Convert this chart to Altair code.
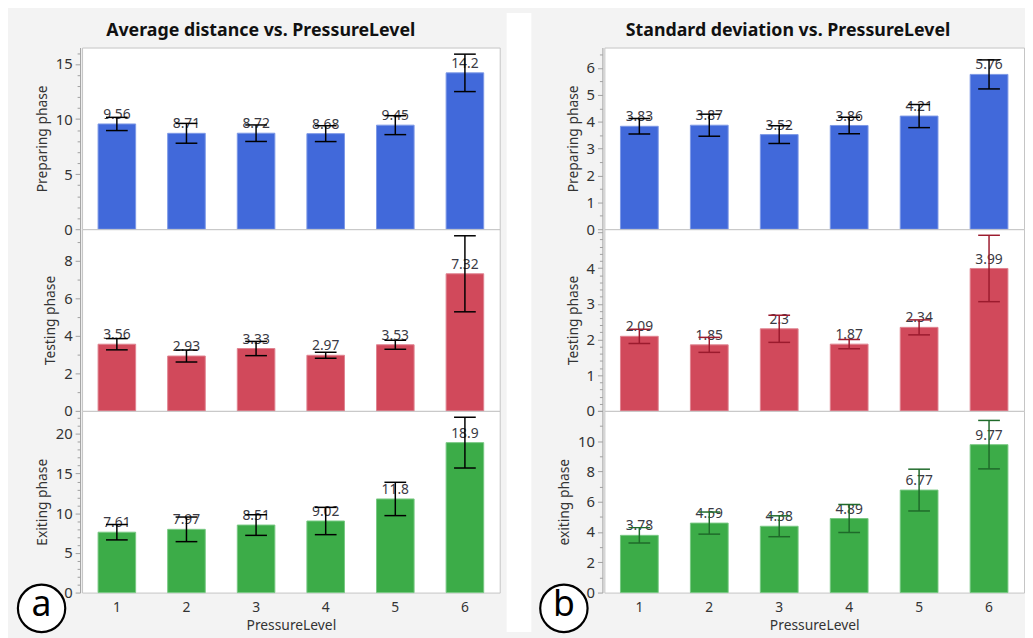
import altair as alt
import pandas as pd

FONT = "Noto Sans"

levels = [1, 2, 3, 4, 5, 6]

# Average distance
avg_prep = [9.56, 8.71, 8.72, 8.68, 9.45, 14.2]
avg_prep_err = [0.60, 0.90, 0.75, 0.72, 0.86, 1.70]
avg_test = [3.56, 2.93, 3.33, 2.97, 3.53, 7.32]
avg_test_err = [0.30, 0.32, 0.38, 0.16, 0.24, 2.03]
avg_exit = [7.61, 7.97, 8.51, 9.02, 11.8, 18.9]
avg_exit_err = [0.97, 1.55, 1.30, 1.72, 2.10, 3.20]

# Standard deviation
sd_prep = [3.83, 3.87, 3.52, 3.86, 4.21, 5.76]
sd_prep_err = [0.29, 0.41, 0.33, 0.31, 0.43, 0.54]
sd_test = [2.09, 1.85, 2.3, 1.87, 2.34, 3.99]
sd_test_err = [0.20, 0.21, 0.38, 0.13, 0.21, 0.93]
sd_exit = [3.78, 4.59, 4.38, 4.89, 6.77, 9.77]
sd_exit_err = [0.51, 0.73, 0.69, 0.92, 1.38, 1.60]

titles = ["Average distance vs. PressureLevel", "Standard deviation vs. PressureLevel"]

# axis ranges and ticks (major step, minor step)
ymax = {"avg_prep": 16.5, "avg_test": 9.7, "avg_exit": 22.9,
        "sd_prep": 6.76, "sd_test": 5.09, "sd_exit": 12.0}
major_step = {"avg_prep": 5, "avg_test": 2, "avg_exit": 5,
              "sd_prep": 1, "sd_test": 1, "sd_exit": 2}
minor_step = {"avg_prep": 1, "avg_test": 1, "avg_exit": 1,
              "sd_prep": 0.5, "sd_test": 0.2, "sd_exit": 1}

BLUE, BLUE_S = "#4169da", "#7d98e6"
RED, RED_S = "#d1495b", "#e08390"
GREEN, GREEN_S = "#3cac48", "#79c883"

W_L, W_R, H = 423, 425, 184


def panel(key, values, errs, color, stroke, errcolor, ytitle, bottom, letter=None, gap=False,
          width=W_L, title=None, title_x=180):
    df = pd.DataFrame({
        "level": levels,
        "value": values,
        "lo": [v - e for v, e in zip(values, errs)],
        "hi": [v + e for v, e in zip(values, errs)],
        "label": [str(v) for v in values],
    })
    mj = major_step[key]
    mn = minor_step[key]
    top = ymax[key]
    n = int(top / mn + 1e-9)
    ticks = [round(i * mn, 4) for i in range(n + 1)]
    is_major = f"abs(datum.value/{mj} - round(datum.value/{mj})) < 1e-6"
    show = f"{is_major} && datum.value < {top - 0.15 * mj}"
    yax = alt.Axis(
        values=ticks, title=ytitle, grid=False, offset=2, format="~g",
        labelExpr=f"{show} ? datum.label : ''",
        tickSize={"condition": {"test": is_major, "value": 5}, "value": 3},
        domainColor="#a0a0a0", tickColor="#a0a0a0",
        labelFont=FONT, labelFontSize=15, labelColor="#333333", labelPadding=3,
        labelOverlap=False,
        titleFont=FONT, titleFontSize=14, titleFontWeight="normal", titleColor="#333333",
        titlePadding=6,
    )
    ysc = alt.Scale(domain=[0, top], nice=False, zero=True)
    if bottom:
        xax = alt.Axis(title="PressureLevel", labelAngle=0, ticks=False, domain=False,
                       labelFont=FONT, labelFontSize=14, labelColor="#333333", labelPadding=8,
                       titleFont=FONT, titleFontSize=14, titleFontWeight="normal",
                       titleColor="#333333", titlePadding=4)
    else:
        xax = None
    xenc = alt.X("level:O", scale=alt.Scale(paddingInner=0.46, paddingOuter=0.23), axis=xax)
    base = alt.Chart(df).encode(x=xenc)
    bars = base.mark_bar(color=color, stroke=stroke, strokeWidth=1).encode(
        y=alt.Y("value:Q", scale=ysc, axis=yax))
    text = base.mark_text(baseline="bottom", dy=-2, font=FONT, fontSize=14, color="#3a3a44").encode(
        y=alt.Y("value:Q", scale=ysc, axis=yax), text="label:N")
    rule = base.mark_rule(color=errcolor, strokeWidth=1.5).encode(
        y=alt.Y("lo:Q", scale=ysc, axis=yax), y2="hi:Q")
    cap_hi = base.mark_tick(color=errcolor, thickness=1.5, size=22, opacity=1).encode(
        y=alt.Y("hi:Q", scale=ysc, axis=yax))
    cap_lo = base.mark_tick(color=errcolor, thickness=1.5, size=22, opacity=1).encode(
        y=alt.Y("lo:Q", scale=ysc, axis=yax))
    layers = []
    if gap:
        gdf = pd.DataFrame({"g": [0]})
        layers.append(alt.Chart(gdf).mark_rect(color="white").encode(
            x=alt.value(width + 7), x2=alt.value(width + 32),
            y=alt.value(-35), y2=alt.value(592)))
    layers += [bars, text, rule, cap_hi, cap_lo]
    if title:
        tdf = pd.DataFrame({"t": [title]})
        layers.append(alt.Chart(tdf).mark_text(font=FONT, fontSize=18, fontWeight="bold",
                                               color="#111111", baseline="middle",
                                               align="center").encode(
            x=alt.value(title_x), y=alt.value(-17), text="t:N"))
    if letter:
        ldf = pd.DataFrame({"t": [letter]})
        circ = alt.Chart(ldf).mark_point(shape="circle", size=2300, filled=True, fill="white",
                                         stroke="black", strokeWidth=2.2, opacity=1).encode(
            x=alt.value(-41), y=alt.value(200))
        lab = alt.Chart(ldf).mark_text(font=FONT, fontSize=36, color="black", baseline="middle",
                                       align="center", dy=-3).encode(
            x=alt.value(-41), y=alt.value(200), text="t:N")
        layers += [circ, lab]
    return alt.layer(*layers).properties(width=width, height=H)


panels = [
    panel("avg_prep", avg_prep, avg_prep_err, BLUE, BLUE_S, "black", "Preparing phase", False,
          gap=True, title=titles[0], title_x=181),
    panel("sd_prep", sd_prep, sd_prep_err, BLUE, BLUE_S, "black", "Preparing phase", False,
          width=W_R, title=titles[1], title_x=186),
    panel("avg_test", avg_test, avg_test_err, RED, RED_S, "black", "Testing phase", False),
    panel("sd_test", sd_test, sd_test_err, RED, RED_S, "#9b1b2e", "Testing phase", False, width=W_R),
    panel("avg_exit", avg_exit, avg_exit_err, GREEN, GREEN_S, "black", "Exiting phase", True, letter="a"),
    panel("sd_exit", sd_exit, sd_exit_err, GREEN, GREEN_S, "#1f6a2a", "exiting phase", True,
          letter="b", width=W_R),
]

chart = alt.ConcatChart(
    concat=panels, columns=2, spacing={"row": 0, "column": 106}, bounds="flush",
).properties(
    background="#f3f3f3",
    padding={"left": 5, "top": 0, "right": 0, "bottom": 0},
).configure_view(stroke="#c4c4c4", fill="white", strokeWidth=1)

chart.save("out.html", embed_options={"renderer": "svg", "actions": False})
